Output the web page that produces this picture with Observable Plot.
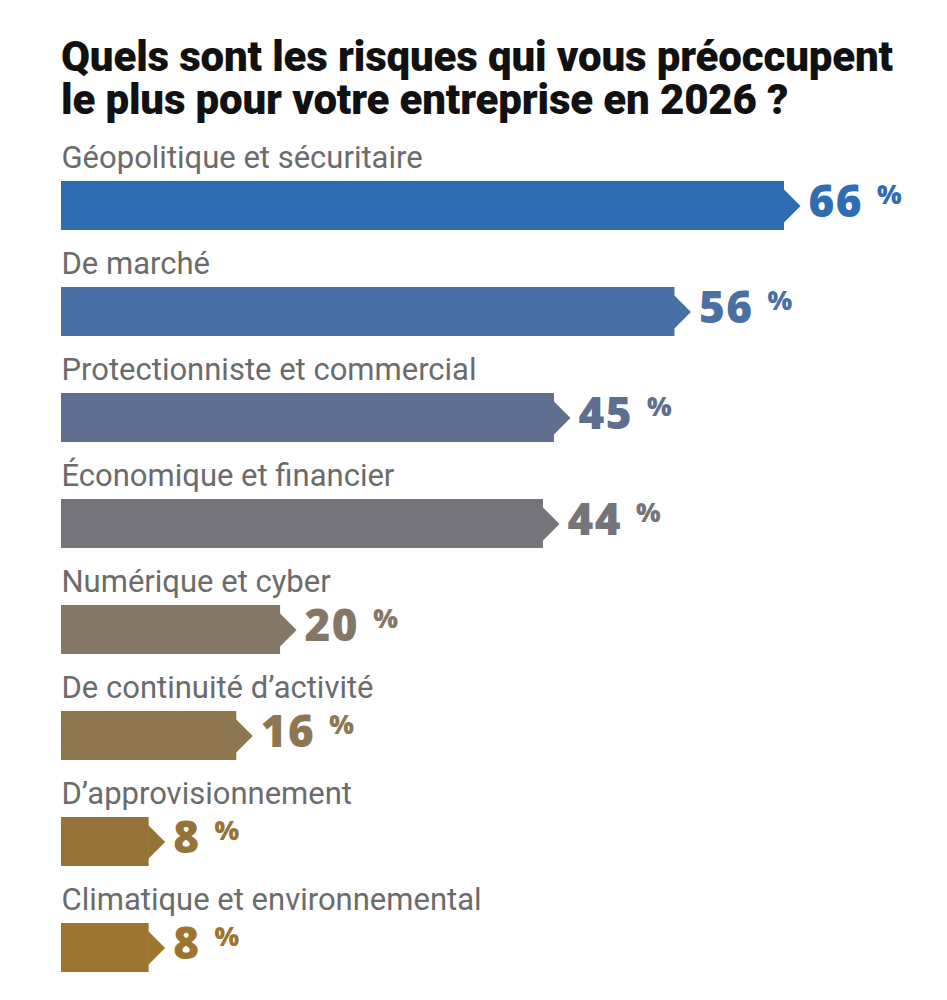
<!DOCTYPE html>
<html lang="fr">
<head>
<meta charset="utf-8">
<script src="https://cdn.jsdelivr.net/npm/d3@7"></script>
<script src="https://cdn.jsdelivr.net/npm/@observablehq/plot@0.6"></script>
<style>
  html, body { margin: 0; padding: 0; background: #fff; }
  body { width: 947px; height: 1000px; overflow: hidden; }
  #title {
    position: absolute; left: 61px; top: 35px;
    font-family: Roboto, "Noto Sans", sans-serif;
    font-weight: 900; font-size: 42px;
    color: #111; letter-spacing: -0.15px;
    white-space: nowrap;
  }
  #title div { height: 43px; line-height: 43px; }
  #chart { position: absolute; left: 0; top: 120px; }
</style>
</head>
<body>
<div id="title">
  <div>Quels sont les risques qui vous préoccupent</div>
  <div>le plus pour votre entreprise en 2026 ?</div>
</div>
<div id="chart"></div>
<script>
// Risques cités pour 2026 (% des entreprises)
const categories = [
  "Géopolitique et sécuritaire",
  "De marché",
  "Protectionniste et commercial",
  "Économique et financier",
  "Numérique et cyber",
  "De continuité d’activité",
  "D’approvisionnement",
  "Climatique et environnemental"
];
const values = [66, 56, 45, 44, 20, 16, 8, 8];
const colors = ["#2f6db2", "#4a6fa5", "#5e6e8e", "#75747a", "#857766", "#8d7650", "#957338", "#9c7530"];

const data = categories.map((c, i) => ({category: c, value: values[i], color: colors[i]}));

// Arrow head drawn at the end of each bar
const arrowHead = {
  draw(context) {
    context.moveTo(-1, -17);
    context.lineTo(16, 0);
    context.lineTo(-1, 17);
    context.closePath();
  }
};

const chart = Plot.plot({
  width: 947,
  height: 880,
  marginLeft: 61,
  marginRight: 0,
  x: {domain: [0, 66], range: [61, 784], axis: null},
  y: {domain: categories, range: [30.3, 881.5], paddingInner: 0.54, paddingOuter: 0.27, axis: null},
  color: {type: "identity"},
  style: {fontFamily: "Roboto, sans-serif"},
  marks: [
    Plot.barX(data, {x1: 0, x2: "value", y: "category", fill: "color"}),
    Plot.dot(data, {x: "value", y: "category", fill: "color", symbol: arrowHead, r: 10, stroke: null}),
    // category labels above the bars
    Plot.text(data, {
      x: 0, y: "category", text: "category", fill: "#6b6b6b",
      textAnchor: "start", dy: -38, lineAnchor: "bottom",
      fontSize: 31, fontFamily: "Roboto, sans-serif"
    }),
    // value labels
    Plot.text(data, {
      x: "value", y: "category", text: d => String(d.value), fill: "color",
      textAnchor: "start", dx: 24, dy: -3, fontSize: 44, fontWeight: 800,
      fontFamily: "'Open Sans', Lato, sans-serif", className: "value-label"
    })
  ]
});

document.getElementById("chart").appendChild(chart);

// Raised "%" after each value
d3.select(chart).selectAll(".value-label text").each(function () {
  const t = d3.select(this);
  const v = t.text();
  t.text(null);
  t.append("tspan").text(v).attr("letter-spacing", 1.5);
  t.append("tspan").text("%").attr("font-size", 26).attr("dx", 14).attr("dy", -13);
});
</script>
</body>
</html>
